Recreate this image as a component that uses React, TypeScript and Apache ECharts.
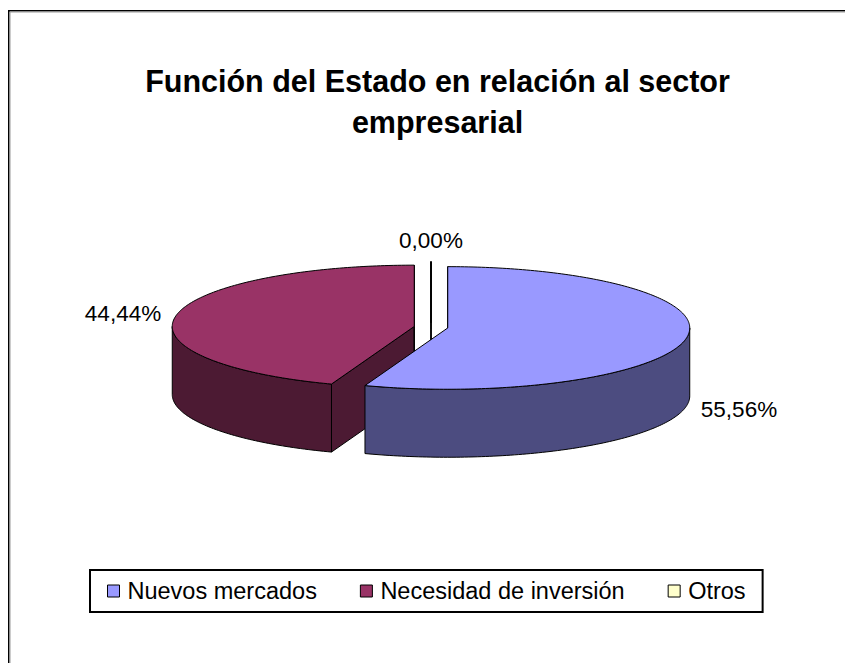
import React, { useEffect, useRef } from "react";
import * as echarts from "echarts";

// ---- data ----
const categories = ["Nuevos mercados", "Necesidad de inversión", "Otros"];
const values = [5, 4, 0];
const titleLines = ["Función del Estado en relación al sector", "empresarial"];

// ---- styles / layout ----
const topColors = ["#9999FF", "#993366", "#FFFFCC"];
const sideColors = ["#4C4C80", "#4C1A33", "#80806A"];
const FONT = '"Liberation Sans", Arial, sans-serif';
const CX = 431;
const CY = 327.2;
const RX = 242;
const RY = 61.3;
const DEPTH = 68;
const EXPLODE = 17;
const LABEL_GAP = 15;
const LABEL_GAP_V = 10;

const total = values.reduce((a, b) => a + b, 0);

function startValue(i: number) {
  let s = 0;
  for (let k = 0; k < i; k++) s += values[k];
  return s;
}

function midAngle(i: number) {
  const s = startValue(i);
  return ((s + values[i] / 2) / total) * Math.PI * 2;
}

function rim(a: number, cx: number, cy: number, dz: number) {
  return [cx + RX * Math.sin(a), cy - RY * Math.cos(a) + dz];
}

function arcPts(a0: number, a1: number, cx: number, cy: number, dz: number) {
  const n = Math.max(1, Math.ceil((a1 - a0) / (Math.PI / 180)));
  const pts: number[][] = [];
  for (let k = 0; k <= n; k++) {
    const a = a0 + ((a1 - a0) * k) / n;
    pts.push(rim(a, cx, cy, dz));
  }
  return pts;
}

function fmtPct(v: number) {
  return ((v / total) * 100).toFixed(2).replace(".", ",") + "%";
}

function renderSlice(params: any, api: any) {
  const i = params.seriesIndex;
  const v = api.value(0);
  const s0 = startValue(i);
  const a0 = (s0 / total) * Math.PI * 2;
  const a1 = ((s0 + v) / total) * Math.PI * 2;
  const mid = (a0 + a1) / 2;
  const cx = CX + EXPLODE * Math.sin(mid);
  const cy = CY - EXPLODE * Math.cos(mid) * (RY / RX);
  const stroke = { stroke: "#000", lineWidth: 1, lineJoin: "round" };
  const children: any[] = [];

  // cut faces (radial faces), drawn first
  const face = (a: number) => {
    const r = rim(a, cx, cy, 0);
    const rd = rim(a, cx, cy, DEPTH);
    return {
      type: "polygon",
      shape: { points: [[cx, cy], r, rd, [cx, cy + DEPTH]] },
      style: { fill: sideColors[i], ...stroke },
    };
  };
  if (Math.sin(a0) < 1e-9) children.push(face(a0));
  if (Math.sin(a1) > -1e-9) children.push(face(a1));

  // outer side wall (front half only)
  const lo = Math.max(a0, Math.PI / 2);
  const hi = Math.min(a1, (Math.PI * 3) / 2);
  if (hi > lo) {
    const topArc = arcPts(lo, hi, cx, cy, 0);
    const botArc = arcPts(lo, hi, cx, cy, DEPTH).reverse();
    children.push({
      type: "polygon",
      shape: { points: topArc.concat(botArc) },
      style: { fill: sideColors[i], ...stroke },
    });
  }

  // top face
  children.push({
    type: "polygon",
    shape: { points: [[cx, cy]].concat(arcPts(a0, a1, cx, cy, 0)) },
    style: { fill: topColors[i], ...stroke },
  });

  // label
  const s = Math.sin(mid);
  const c = Math.cos(mid);
  const side = Math.abs(s) > 0.5;
  const gap = side ? LABEL_GAP : LABEL_GAP_V;
  const px = cx + s * (RX + gap);
  const py = cy - c * (RY + gap) + (c < -1e-6 ? DEPTH : 0);
  children.push({
    type: "text",
    x: px,
    y: py,
    style: {
      text: fmtPct(v),
      fill: "#000",
      font: `22.5px ${FONT}`,
      align: s > 0.5 ? "left" : s < -0.5 ? "right" : "center",
      verticalAlign: side ? "middle" : c > 0 ? "bottom" : "top",
    },
  });

  return { type: "group", children };
}

export default function App() {
  const ref = useRef<HTMLDivElement>(null);
  useEffect(() => {
    if (!ref.current) return;
    const chart = echarts.init(ref.current, undefined, { renderer: "svg" });

    const front = categories.map((_, i) => -Math.cos(midAngle(i)));
    const order = categories.map((_, i) => i).sort((a, b) => front[a] - front[b]);
    const zOf: number[] = [];
    order.forEach((idx, rank) => (zOf[idx] = 2 + rank));

    chart.setOption({
      animation: false,
      backgroundColor: "#fff",
      tooltip: { show: false },
      graphic: [
        {
          type: "rect",
          shape: { x: 8.75, y: 10.75, width: 900, height: 700 },
          style: { fill: "none", stroke: "#000", lineWidth: 1.5 },
          silent: true,
        },
        {
          type: "rect",
          shape: { x: 10, y: 12, width: 900, height: 700 },
          style: { fill: "none", stroke: "#999", lineWidth: 1 },
          silent: true,
        },
        {
          type: "text",
          x: 437.5,
          y: 80.5,
          style: {
            text: titleLines[0],
            fill: "#000",
            font: `bold 30.5px ${FONT}`,
            align: "center",
            verticalAlign: "middle",
          },
        },
        {
          type: "text",
          x: 437.5,
          y: 121.5,
          style: {
            text: titleLines[1],
            fill: "#000",
            font: `bold 30.5px ${FONT}`,
            align: "center",
            verticalAlign: "middle",
          },
        },
      ],
      legend: {
        left: 90,
        top: 570,
        padding: [9, 17],
        itemGap: 43,
        itemWidth: 12,
        itemHeight: 12,
        borderColor: "#000",
        borderWidth: 2,
        selectedMode: false,
        icon: "rect",
        textStyle: {
          fontSize: 23.5,
          fontFamily: FONT,
          color: "#000",
          lineHeight: 24,
          padding: [0, 0, 0, 3],
        },
        data: categories.map((name, i) => ({
          name,
          icon: "rect",
          itemStyle: { color: topColors[i], borderColor: "#000", borderWidth: 1 },
        })),
      },
      series: categories.map((name, i) => ({
        type: "custom",
        name,
        coordinateSystem: "none",
        silent: true,
        z: zOf[i],
        itemStyle: { color: topColors[i] },
        data: [[values[i]]],
        renderItem: renderSlice,
      })),
    });
    return () => chart.dispose();
  }, []);
  return (
    <div
      ref={ref}
      style={{ position: "absolute", left: 0, top: 0, width: 845, height: 663 }}
    />
  );
}
